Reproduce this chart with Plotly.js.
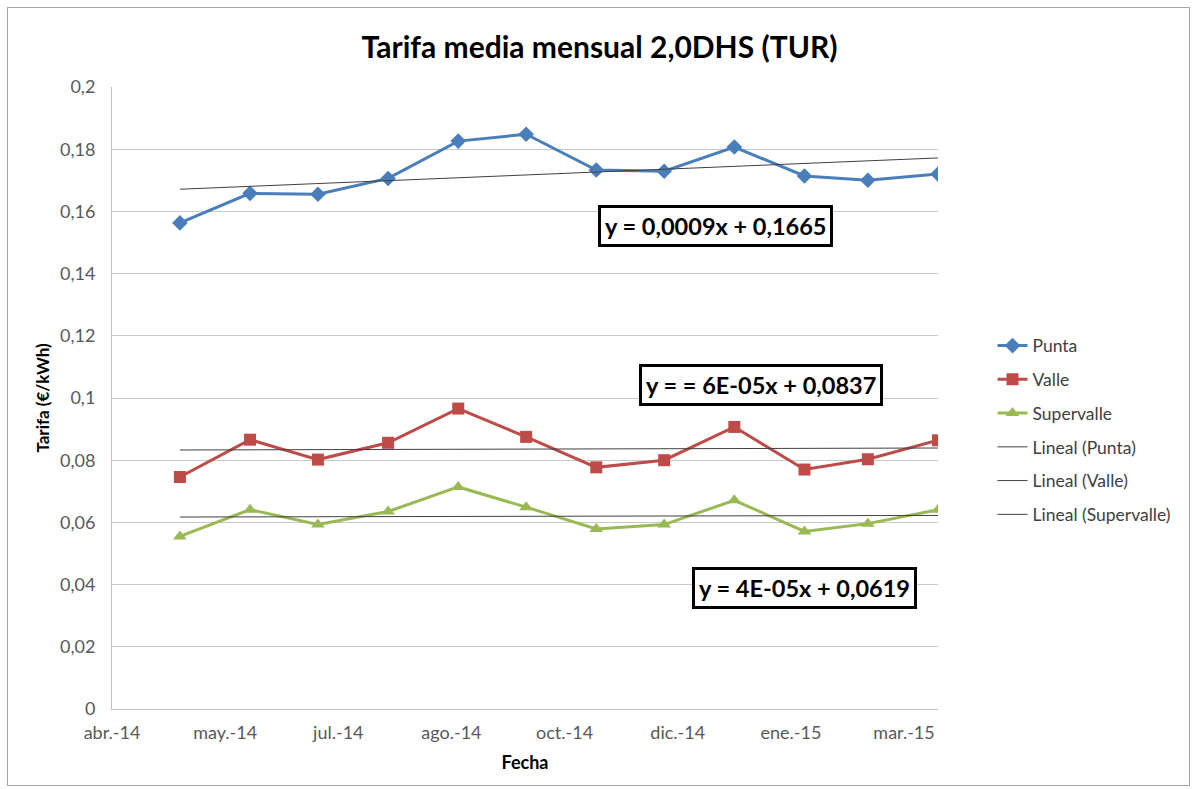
<!DOCTYPE html>
<html>
<head>
<meta charset="utf-8">
<script src="https://cdn.plot.ly/plotly-3.0.1.min.js"></script>
<style>
  html, body { margin: 0; padding: 0; background: #fff; }
  #frame { position: absolute; left: 7px; top: 7px; width: 1183px; height: 779px; border: 1px solid #a6a6a6; box-sizing: border-box; pointer-events: none; z-index: 5; }
  #chart { width: 1192px; height: 789px; }
</style>
</head>
<body>
<div id="frame"></div>
<div id="chart"></div>
<script>
// ---- data ----
const months = ['2014-05-01','2014-06-01','2014-07-01','2014-08-01','2014-09-01','2014-10-01',
                '2014-11-01','2014-12-01','2015-01-01','2015-02-01','2015-03-01','2015-04-01'];
const punta      = [0.1563, 0.1658, 0.1655, 0.1706, 0.1826, 0.1848, 0.1733, 0.1729, 0.1807, 0.1714, 0.1700, 0.1720];
const valle      = [0.0746, 0.0866, 0.0802, 0.0856, 0.0966, 0.0875, 0.0777, 0.0800, 0.0907, 0.0770, 0.0803, 0.0864];
const supervalle = [0.0555, 0.0641, 0.0593, 0.0635, 0.0714, 0.0649, 0.0579, 0.0593, 0.0671, 0.0571, 0.0596, 0.0641];

const seriesNames = ['Punta', 'Valle', 'Supervalle'];
const trendNames  = ['Lineal (Punta)', 'Lineal (Valle)', 'Lineal (Supervalle)'];
const equations   = ['y = 0,0009x + 0,1665', 'y = = 6E-05x + 0,0837', 'y = 4E-05x + 0,0619'];

const xTickDates  = ['2014-04-01','2014-05-21','2014-07-10','2014-08-29','2014-10-18','2014-12-07','2015-01-26','2015-03-17'];
const xTickLabels = ['abr.-14','may.-14','jul.-14','ago.-14','oct.-14','dic.-14','ene.-15','mar.-15'];
const xRange      = ['2014-04-01','2015-04-01'];
const yTickVals   = [0, 0.02, 0.04, 0.06, 0.08, 0.1, 0.12, 0.14, 0.16, 0.18, 0.2];
const yTickLabels = ['0','0,02','0,04','0,06','0,08','0,1','0,12','0,14','0,16','0,18','0,2'];

// least-squares linear trend (Excel "Lineal"), x = 1..n
function linearFit(ys) {
  const n = ys.length;
  const xs = ys.map((_, i) => i + 1);
  const mx = xs.reduce((a, b) => a + b, 0) / n;
  const my = ys.reduce((a, b) => a + b, 0) / n;
  let sxy = 0, sxx = 0;
  for (let i = 0; i < n; i++) { sxy += (xs[i] - mx) * (ys[i] - my); sxx += (xs[i] - mx) ** 2; }
  const b = sxy / sxx, a = my - b * mx;
  return xs.map(x => a + b * x);
}

const FONT = 'Lato, "Open Sans", sans-serif';
const colors  = ['#4A7EBB', '#BE4B48', '#98B954'];
const symbols = ['diamond', 'square', 'triangle-up'];
const sizes   = [12, 12, 12];
const data = [punta, valle, supervalle];

const traces = [];
data.forEach((ys, i) => {
  traces.push({
    x: months, y: ys, type: 'scatter', mode: 'lines+markers', name: seriesNames[i],
    legendgroup: 'g' + i,
    line: { color: colors[i], width: 3 },
    marker: { symbol: symbols[i], size: sizes[i], color: colors[i] }
  });
});
data.forEach((ys, i) => {
  traces.push({
    x: months, y: linearFit(ys), type: 'scatter', mode: 'lines', name: trendNames[i],
    legendgroup: 't' + i,
    line: { color: '#404040', width: 1 }
  });
});

const annPos = [[0.7312, 0.7765], [0.7857, 0.5209], [0.8378, 0.1945]];
const annotations = equations.map((t, i) => ({
  text: '<b>' + t + '</b>', xref: 'paper', yref: 'paper', x: annPos[i][0], y: annPos[i][1],
  xanchor: 'center', yanchor: 'middle', showarrow: false,
  font: { family: FONT, size: 23.5, color: '#000' },
  bgcolor: '#fff', bordercolor: '#000', borderwidth: 3, borderpad: 4
}));

const layout = {
  width: 1192, height: 789,
  margin: { l: 112, r: 254, t: 87, b: 80 },
  paper_bgcolor: '#fff', plot_bgcolor: '#fff',
  font: { family: FONT, color: '#595959', size: 17 },
  title: { text: '<b>Tarifa media mensual 2,0DHS (TUR)</b>', x: 0.503, xanchor: 'center', y: 0.94, yanchor: 'middle',
           font: { family: FONT, size: 30, color: '#000' } },
  xaxis: {
    type: 'date', range: xRange, tickvals: xTickDates, ticktext: xTickLabels,
    showgrid: false, zeroline: false, showline: true, linecolor: '#bfbfbf', linewidth: 1,
    ticks: 'outside', ticklen: 7, tickcolor: 'rgba(0,0,0,0)',
    tickfont: { family: FONT, size: 18, color: '#595959' },
    title: { text: '<b>Fecha</b>', font: { family: FONT, size: 18, color: '#000' }, standoff: 14 }
  },
  yaxis: {
    range: [0, 0.2], tickvals: yTickVals, ticktext: yTickLabels,
    showgrid: true, gridcolor: '#c8c8c8', gridwidth: 1, zeroline: false,
    showline: true, linecolor: '#bfbfbf', linewidth: 1,
    ticks: 'outside', ticklen: 12, tickcolor: 'rgba(0,0,0,0)',
    tickfont: { family: FONT, size: 18, color: '#595959' },
    title: { text: '<b>Tarifa (€/kWh)</b>', font: { family: FONT, size: 17, color: '#000' }, standoff: 6 }
  },
  legend: {
    x: 1.066, xanchor: 'left', y: 0.613, yanchor: 'top',
    font: { family: FONT, size: 17.5, color: '#404040' },
    tracegroupgap: 8, bgcolor: 'rgba(0,0,0,0)'
  },
  showlegend: true,
  annotations: annotations
};

Plotly.newPlot('chart', traces, layout, { displayModeBar: false, staticPlot: true });
</script>
</body>
</html>
